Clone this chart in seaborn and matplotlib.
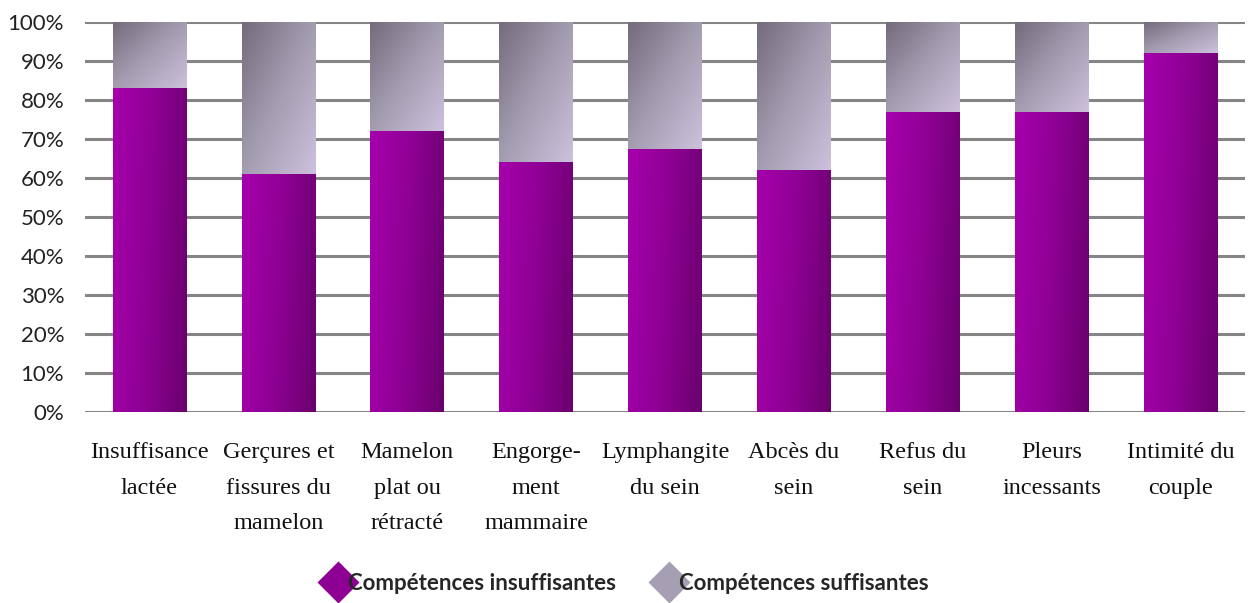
import numpy as np
import matplotlib
matplotlib.use("Agg")
import matplotlib.pyplot as plt
import matplotlib.colors as mcolors
from matplotlib.lines import Line2D
import seaborn as sns
import pandas as pd

categories = ["Insuffisance\nlactée", "Gerçures et\nfissures du\nmamelon", "Mamelon\nplat ou\nrétracté",
              "Engorge-\nment\nmammaire", "Lymphangite\ndu sein", "Abcès du\nsein", "Refus du\nsein",
              "Pleurs\nincessants", "Intimité du\ncouple"]
insuffisantes = [83, 61, 72, 64, 67.5, 62, 77, 77, 92]
suffisantes = [100 - v for v in insuffisantes]
yticks = [0, 10, 20, 30, 40, 50, 60, 70, 80, 90, 100]
ytick_labels = [f"{v}%" for v in yticks]
series_names = ["Compétences insuffisantes", "Compétences suffisantes"]

sns.set_theme(style="white")
plt.rcParams['font.family'] = ['Lato', 'DejaVu Sans']

fig = plt.figure(figsize=(12.5, 6.03), dpi=100)
ax = fig.add_axes([0.068, 0.317, 0.928, 0.6465])

df = pd.DataFrame({"cat": categories, "ins": insuffisantes,
                   "tot": [a + b for a, b in zip(insuffisantes, suffisantes)]})

sns.barplot(data=df, x="cat", y="tot", color="#a8a0b4", width=0.57, ax=ax, zorder=2)
n_grey = len(ax.patches)
sns.barplot(data=df, x="cat", y="ins", color="#9a009e", width=0.57, ax=ax, zorder=3)

# gradients
purple_cmap = mcolors.LinearSegmentedColormap.from_list("p", ["#a600ac", "#8e0094", "#6a006e"])
grey_cmap = mcolors.LinearSegmentedColormap.from_list("g", ["#746c7c", "#a49cb0", "#cdc1dd"])
patches = list(ax.patches)
xx, yy = np.meshgrid(np.linspace(0, 1, 80), np.linspace(0, 1, 80))
for i, p in enumerate(patches):
    x0, y0 = p.get_x(), p.get_y()
    w, h = p.get_width(), p.get_height()
    if i < n_grey:
        bottom = patches[n_grey + i].get_height()
        grad = 0.5 * xx + 0.5 * yy
        img = ax.imshow(grad, cmap=grey_cmap, extent=[x0, x0 + w, bottom, y0 + h],
                        origin="upper", aspect="auto", zorder=2, interpolation="bilinear")
    else:
        grad = 0.85 * xx + 0.15 * yy
        img = ax.imshow(grad, cmap=purple_cmap, extent=[x0, x0 + w, y0, y0 + h],
                        origin="upper", aspect="auto", zorder=3, interpolation="bilinear")
    img.set_clip_path(p)
    p.set_facecolor("none")
    p.set_edgecolor("none")

ax.set_xlim(-0.5, len(categories) - 0.5)
ax.set_ylim(0, 100)
ax.set_yticks(yticks)
ax.set_yticklabels(ytick_labels, fontsize=16, color="#222222")
ax.set_xticks(range(len(categories)))
ax.set_xticklabels(categories, fontsize=17.5, family=["Liberation Serif"], linespacing=1.9, color="#111111")
ax.set_xlabel("")
ax.set_ylabel("")
ax.tick_params(axis="y", length=0, pad=15)
ax.tick_params(axis="x", length=0, pad=22)
for s in ax.spines.values():
    s.set_visible(False)
ax.yaxis.grid(True, color="#858585", linewidth=2.2)
ax.set_axisbelow(True)

handles = [Line2D([0], [0], marker="D", linestyle="none", markersize=21, markerfacecolor="#8e0094",
                  markeredgecolor="none"),
           Line2D([0], [0], marker="D", linestyle="none", markersize=21, markerfacecolor="#a69eb2",
                  markeredgecolor="none")]
fig.legend(handles, series_names, loc="center", bbox_to_anchor=(0.5, 0.033), ncol=2, frameon=False,
           prop={"family": ["Lato", "DejaVu Sans"], "weight": "bold", "size": 16},
           handletextpad=-0.3, columnspacing=1.6, handlelength=1.5)

fig.savefig("out.png", dpi=100)
